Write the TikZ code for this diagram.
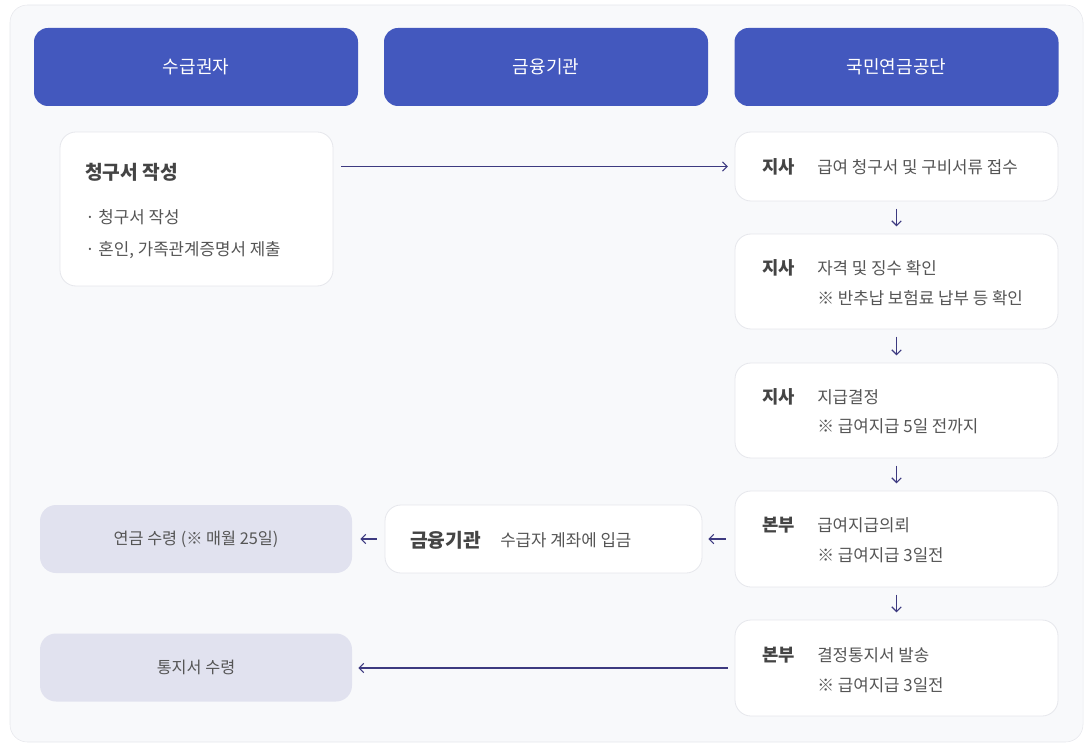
\documentclass[tikz,border=0pt]{standalone}
\usepackage{fontspec}
\setmainfont{Noto Sans CJK KR}
\usetikzlibrary{arrows.meta}
\definecolor{hdblue}{HTML}{4358BE}
\definecolor{arrowc}{HTML}{3D3A80}
\definecolor{grayfill}{HTML}{E1E2EF}
\definecolor{boxline}{HTML}{E6E7EC}
\definecolor{bgfill}{HTML}{F8F9FB}
\definecolor{txt}{HTML}{555555}
\definecolor{txtd}{HTML}{444444}

\tikzset{
  hd/.style={rounded corners=10.5pt,fill=hdblue,text=white,minimum width=243pt,minimum height=58.5pt,font=\fontsize{13.5}{15}\selectfont},
  wbox/.style={rounded corners=12pt,fill=white,draw=boxline,line width=0.6pt},
  gbox/.style={rounded corners=12pt,fill=grayfill,minimum width=234pt,minimum height=51pt,text=txt,font=\fontsize{12.2}{14}\selectfont},
  lbl/.style={anchor=west,inner sep=0pt,text=txtd,font=\bfseries\fontsize{13.3}{15}\selectfont},
  dsc/.style={anchor=west,inner sep=0pt,text=txt,font=\fontsize{12.6}{14}\selectfont},
  flow/.style={draw=arrowc,line width=0.8pt,-{Straight Barb[length=3.5pt,width=7pt]}}
}

\begin{document}
\begin{tikzpicture}[x=0.75pt,y=-0.75pt]
\useasboundingbox (0,0) rectangle (1091,748);
\draw[fill=bgfill,draw=boxline,rounded corners=13pt] (10,5) rectangle (1083,742);

% column heads
\begin{scope}
    \node[hd] (h1) at (196,67) {수급권자};
    \node[hd] (h2) at (546,67) {금융기관};
    \node[hd] (h3) at (896.5,67) {국민연금공단};
\end{scope}

% boxes
\begin{scope}
    \node[wbox,minimum width=204.75pt,minimum height=115.5pt] (a) at (196.5,209) {};
    \node[wbox,minimum width=242.25pt,minimum height=51.75pt] (b) at (896.5,166.5) {};
    \node[wbox,minimum width=242.25pt,minimum height=71.25pt] (c) at (896.5,281.5) {};
    \node[wbox,minimum width=242.25pt,minimum height=71.25pt] (d) at (896.5,410.5) {};
    \node[wbox,minimum width=242.25pt,minimum height=72pt] (e) at (896.5,539) {};
    \node[wbox,minimum width=242.25pt,minimum height=72pt] (f) at (896.5,668) {};
    \node[wbox,minimum width=237.75pt,minimum height=51pt] (m) at (543.5,539) {};
    \node[gbox] (g) at (196,539) {연금 수령 (※ 매월 25일)};
    \node[gbox] (k) at (196,667.5) {통지서 수령};
\end{scope}

% texts
\begin{scope}
    \node[lbl,font=\bfseries\fontsize{14.4}{16}\selectfont] (at) at (85,172) {청구서 작성};
    \node[dsc] (a1) at (85,217) {· 청구서 작성};
    \node[dsc] (a2) at (85,250) {· 혼인, 가족관계증명서 제출};

    \node[lbl] (bt) at (762,167) {지사};
    \node[dsc] (b1) at (817,167) {급여 청구서 및 구비서류 접수};
    \node[lbl] (ct) at (762,268) {지사};
    \node[dsc] (c1) at (817,268) {자격 및 징수 확인};
    \node[dsc] (c2) at (817,298) {※ 반추납 보험료 납부 등 확인};
    \node[lbl] (dt) at (762,397) {지사};
    \node[dsc] (d1) at (817,397) {지급결정};
    \node[dsc] (d2) at (817,426) {※ 급여지급 5일 전까지};
    \node[lbl] (et) at (762,525) {본부};
    \node[dsc] (e1) at (817,525) {급여지급의뢰};
    \node[dsc] (e2) at (817,555) {※ 급여지급 3일전};
    \node[lbl] (ft) at (762,655) {본부};
    \node[dsc] (f1) at (817,655) {결정통지서 발송};
    \node[dsc] (f2) at (817,685) {※ 급여지급 3일전};

    \node[lbl,font=\bfseries\fontsize{14.4}{16}\selectfont] (mt) at (410,540) {금융기관};
    \node[dsc] (m1) at (500,540) {수급자 계좌에 입금};
\end{scope}

% arrows
\begin{scope}
    \path (b.west -| a.east) edge [flow,shorten <=6pt,shorten >=5pt] (b.west);
    \path (b) edge [flow,shorten <=5.5pt,shorten >=5.5pt] (c);
    \path (c) edge [flow,shorten <=5.5pt,shorten >=5.5pt] (d);
    \path (d) edge [flow,shorten <=5.5pt,shorten >=5.5pt] (e);
    \path (e) edge [flow,shorten <=5.5pt,shorten >=5.5pt] (f);
    \path (e) edge [flow,shorten <=6.5pt,shorten >=4.5pt] (m);
    \path (m) edge [flow,shorten <=6pt,shorten >=6pt] (g);
    \path (f.west) edge [flow,shorten <=5pt,shorten >=4.5pt] (f.west -| k.east);
\end{scope}
\end{tikzpicture}
\end{document}
